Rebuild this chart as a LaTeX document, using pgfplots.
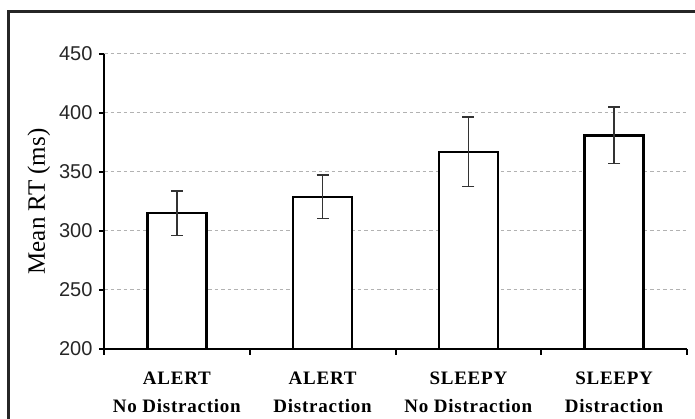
\documentclass[border=0pt]{standalone}
\usepackage{fontspec}
\setmainfont{Liberation Serif}
\setsansfont{Liberation Sans}
\usepackage{pgfplots}
\pgfplotsset{compat=1.18}
\begin{document}
\begin{tikzpicture}[x=1pt,y=1pt]
\useasboundingbox (0,0) rectangle (695,419);
\draw[line width=2.6pt, black!85] (8.3,-10) -- (8.3,407.7) -- (710,407.7);
\begin{axis}[
  at={(104pt,70pt)}, anchor=south west,
  scale only axis, width=583pt, height=295pt,
  xmin=0.5, xmax=4.5, ymin=200, ymax=450,
  axis lines=left, axis line style={-, line width=2pt, black},
  ytick={200,250,...,450},
  ymajorgrids, grid style={gray!60, line width=1pt, dash pattern=on 3.5pt off 3pt},
  xtick={1,2,3,4},
  xticklabels={{ALERT\\No Distraction},{ALERT\\Distraction},{SLEEPY\\No Distraction},{SLEEPY\\Distraction}},
  minor xtick={0.5,1.5,2.5,3.5,4.5},
  tick align=outside,
  major tick length=5pt, minor tick length=6pt,
  major x tick style={draw=none},
  minor x tick style={black, line width=2pt},
  major y tick style={black, line width=2pt},
  /pgf/number format/assume math mode=true,
  yticklabel style={font=\sffamily\fontsize{20}{20}\selectfont, xshift=-3pt, black!85},
  xticklabel style={align=center, anchor=north, yshift=-14pt,
    font=\bfseries\addfontfeature{LetterSpace=4}\fontsize{19}{28}\selectfont},
  ylabel={Mean RT (ms)},
  ylabel shift=2pt,
  ylabel style={font=\fontsize{25}{25}\selectfont},
]
\addplot[ybar, bar width=59pt, fill=white, draw=black, line width=2.4pt,
  error bars/.cd, y dir=both, y explicit,
  error bar style={line width=1.4pt, black!80},
  error mark options={rotate=90, mark size=6pt, line width=1.4pt, black!80}]
  coordinates {
  (1,315) +- (0,19)
  (2,329) +- (0,18.5)
  (3,367) +- (0,29.5)
  (4,381) +- (0,24)
  };
\end{axis}
\end{tikzpicture}
\end{document}
